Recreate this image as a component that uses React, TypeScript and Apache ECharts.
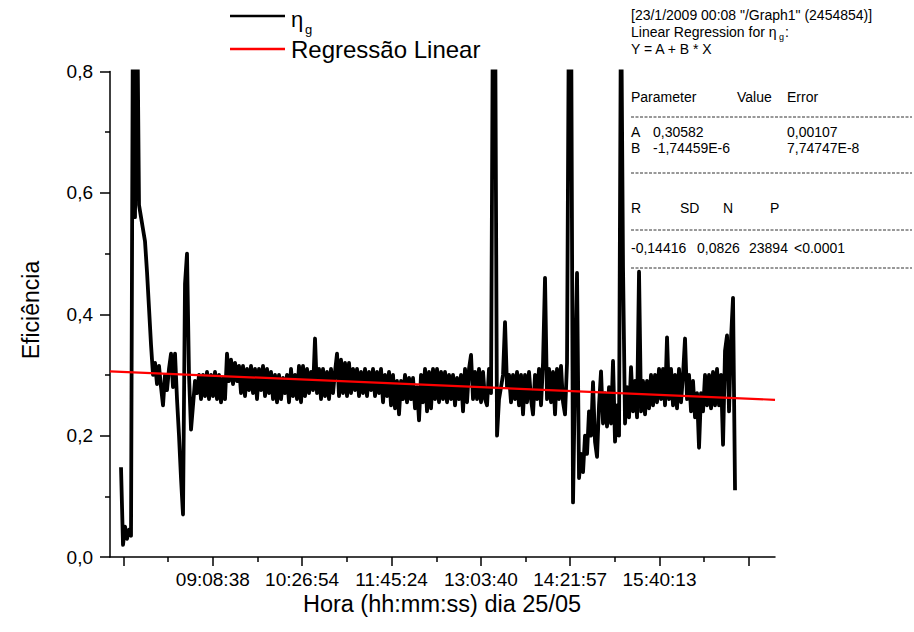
import React, { useEffect, useRef } from "react";
import * as echarts from "echarts";

const FONT = "'Liberation Sans', Arial, Helvetica, sans-serif";

// x axis (time of day)
const xAxisRange = ["07:38:31", "17:21:29"];
const xTickLabels = ["09:08:38", "10:26:54", "11:45:24", "13:03:40", "14:21:57", "15:40:13"];
const xUnlabeledMajorTicks = ["07:50:21", "16:58:30"];

// y axis
const yMin = 0;
const yMax = 0.8;
const yInterval = 0.2;

const traceStart = "07:48:10";
const traceStepSeconds = 105.2;
const efficiency = [
  0.148, 0.02, 0.05, 0.03, 0.045, 0.035, 0.95, 0.56, 0.95, 0.58,
  0.56, 0.54, 0.52, 0.47, 0.41, 0.35, 0.30, 0.32, 0.285, 0.315,
  0.28, 0.25, 0.30, 0.275, 0.31, 0.335, 0.28, 0.335, 0.26, 0.20,
  0.13, 0.07, 0.45, 0.50, 0.30, 0.21, 0.25, 0.29, 0.27, 0.30,
  0.26, 0.30, 0.265, 0.305, 0.26, 0.30, 0.265, 0.305, 0.26, 0.30,
  0.255, 0.295, 0.26, 0.335, 0.29, 0.325, 0.285, 0.32, 0.29, 0.315,
  0.27, 0.315, 0.265, 0.31, 0.275, 0.315, 0.27, 0.31, 0.26, 0.31,
  0.275, 0.315, 0.265, 0.31, 0.27, 0.305, 0.26, 0.30, 0.255, 0.30,
  0.26, 0.295, 0.27, 0.30, 0.255, 0.31, 0.265, 0.30, 0.26, 0.315,
  0.255, 0.315, 0.265, 0.31, 0.27, 0.305, 0.275, 0.36, 0.27, 0.31,
  0.26, 0.31, 0.265, 0.305, 0.26, 0.31, 0.27, 0.305, 0.335, 0.265,
  0.325, 0.27, 0.32, 0.265, 0.32, 0.27, 0.31, 0.275, 0.31, 0.265,
  0.305, 0.27, 0.31, 0.265, 0.305, 0.275, 0.31, 0.265, 0.305, 0.27,
  0.31, 0.255, 0.30, 0.265, 0.305, 0.25, 0.30, 0.245, 0.29, 0.235,
  0.29, 0.26, 0.30, 0.255, 0.295, 0.26, 0.295, 0.245, 0.28, 0.225,
  0.30, 0.255, 0.31, 0.24, 0.305, 0.245, 0.31, 0.26, 0.31, 0.255,
  0.305, 0.26, 0.305, 0.255, 0.30, 0.26, 0.30, 0.25, 0.295, 0.26,
  0.30, 0.24, 0.31, 0.255, 0.31, 0.333, 0.26, 0.305, 0.26, 0.31,
  0.255, 0.305, 0.26, 0.25, 0.31, 0.27, 0.95, 0.95, 0.20, 0.26,
  0.28, 0.30, 0.387, 0.28, 0.30, 0.255, 0.30, 0.26, 0.305, 0.25,
  0.30, 0.235, 0.30, 0.255, 0.305, 0.26, 0.235, 0.30, 0.26, 0.31,
  0.25, 0.32, 0.46, 0.26, 0.31, 0.255, 0.305, 0.235, 0.31, 0.26,
  0.315, 0.255, 0.235, 0.32, 0.95, 0.95, 0.09, 0.30, 0.468, 0.13,
  0.17, 0.14, 0.20, 0.17, 0.24, 0.20, 0.288, 0.19, 0.165, 0.25,
  0.306, 0.22, 0.27, 0.215, 0.28, 0.22, 0.323, 0.19, 0.25, 0.20,
  0.95, 0.476, 0.22, 0.28, 0.23, 0.313, 0.24, 0.29, 0.23, 0.47,
  0.24, 0.29, 0.235, 0.29, 0.245, 0.30, 0.25, 0.30, 0.255, 0.31,
  0.26, 0.31, 0.25, 0.362, 0.26, 0.31, 0.25, 0.30, 0.245, 0.31,
  0.255, 0.30, 0.36, 0.26, 0.30, 0.24, 0.29, 0.23, 0.27, 0.18,
  0.27, 0.24, 0.30, 0.25, 0.30, 0.245, 0.305, 0.25, 0.31, 0.25,
  0.30, 0.185, 0.34, 0.365, 0.24, 0.36, 0.427, 0.11,
];

// linear regression line as drawn
const regressionTimes = ["07:38:31", "17:21:29"];
const regressionValues = [0.306, 0.259];

// regression report text
const reportHeader = "[23/1/2009 00:08 \"/Graph1\" (2454854)]";
const reportTitle = "Linear Regression for η";
const reportModel = "Y = A + B * X";
const paramColumns = ["Parameter", "Value", "Error"];
const paramNames = ["A", "B"];
const paramValues = ["0,30582", "-1,74459E-6"];
const paramErrors = ["0,00107", "7,74747E-8"];
const statNames = ["R", "SD", "N", "P"];
const statValues = ["-0,14416", "0,0826", "23894", "<0.0001"];

function hmsToSec(s: string): number {
  const [h, m, sec] = s.split(":").map(Number);
  return h * 3600 + m * 60 + sec;
}
function secToHms(v: number): string {
  const r = Math.round(v);
  const h = Math.floor(r / 3600);
  const m = Math.floor((r % 3600) / 60);
  const s = r % 60;
  const p = (n: number) => String(n).padStart(2, "0");
  return `${p(h)}:${p(m)}:${p(s)}`;
}

function txt(x: number, y: number, text: string, fontSize: number, align = "left", extra: any = {}, lh?: number) {
  return {
    type: "text",
    x,
    y,
    silent: true,
    ...extra,
    style: {
      text,
      fontSize,
      fontFamily: FONT,
      fill: "#000",
      align,
      verticalAlign: "middle",
      textAlign: align,
      textVerticalAlign: "middle",
      lineHeight: lh ?? Math.round(fontSize * 1.05),
    },
  };
}

function dash(y: number) {
  return {
    type: "line",
    silent: true,
    shape: { x1: 631, y1: y, x2: 912, y2: y },
    style: { stroke: "#333", lineWidth: 1, lineDash: [3, 1.5] },
  };
}

export default function App() {
  const ref = useRef<HTMLDivElement>(null);

  useEffect(() => {
    if (!ref.current) return;
    const chart = echarts.init(ref.current, null, { renderer: "svg" });

    const t0 = hmsToSec(traceStart);
    const traceData = efficiency.map((v, i) => [t0 + i * traceStepSeconds, v]);
    const regData = regressionTimes.map((t, i) => [hmsToSec(t), regressionValues[i]]);
    const labeled = xTickLabels.map(hmsToSec);
    const majors = [hmsToSec(xUnlabeledMajorTicks[0]), ...labeled, hmsToSec(xUnlabeledMajorTicks[1])];
    const minors = majors.slice(1).map((m, i) => (m + majors[i]) / 2);
    const xMin = hmsToSec(xAxisRange[0]);
    const xMax = hmsToSec(xAxisRange[1]);

    const axisLineStyle = { color: "#000", width: 1.5 };
    const tickLabelStyle = { color: "#000", fontSize: 19, fontFamily: FONT };
    const R = 14;

    const option: any = {
      animation: false,
      backgroundColor: "#fff",
      grid: { left: 110, right: 139, top: 71.5, bottom: 75, containLabel: false },
      xAxis: [
        {
          type: "value",
          min: xMin,
          max: xMax,
          axisLine: { show: true, lineStyle: axisLineStyle },
          axisTick: { show: true, customValues: majors, length: 9, lineStyle: axisLineStyle },
          axisLabel: {
            show: true,
            customValues: labeled,
            formatter: (v: number) => secToHms(v),
            margin: 13,
            ...tickLabelStyle,
          },
          splitLine: { show: false },
        },
        {
          type: "value",
          min: xMin,
          max: xMax,
          position: "bottom",
          axisLine: { show: false },
          axisTick: { show: true, customValues: minors, length: 5, lineStyle: axisLineStyle },
          axisLabel: { show: false },
          splitLine: { show: false },
        },
      ],
      yAxis: {
        type: "value",
        min: yMin,
        max: yMax,
        interval: yInterval,
        axisLine: { show: true, lineStyle: axisLineStyle },
        axisTick: { show: true, length: 10, lineStyle: axisLineStyle },
        minorTick: { show: true, splitNumber: 2, length: 5, lineStyle: axisLineStyle },
        axisLabel: {
          formatter: (v: number) => v.toFixed(1).replace(".", ","),
          margin: 17,
          ...tickLabelStyle,
        },
        splitLine: { show: false },
        minorSplitLine: { show: false },
      },
      series: [
        {
          name: "ηg",
          type: "line",
          data: traceData,
          showSymbol: false,
          symbol: "none",
          clip: true,
          lineStyle: { color: "#000", width: 3.8, join: "round" },
          z: 2,
        },
        {
          name: "Regressão Linear",
          type: "line",
          data: regData,
          showSymbol: false,
          symbol: "none",
          lineStyle: { color: "#ff0000", width: 2.2 },
          z: 3,
        },
      ],
      graphic: [
        // axis titles
        txt(31, 310, "Eficiência", 23, "center", { rotation: Math.PI / 2 }),
        txt(442, 604, "Hora (hh:mm:ss) dia 25/05", 23.5, "center"),
        // legend
        {
          type: "line",
          silent: true,
          shape: { x1: 230, y1: 16, x2: 285, y2: 16 },
          style: { stroke: "#000", lineWidth: 2.5 },
        },
        txt(291, 19, "η", 22, "left", {}, 20),
        txt(305, 29, "g", 13, "left", {}, 12),
        {
          type: "line",
          silent: true,
          shape: { x1: 230, y1: 49, x2: 285, y2: 49 },
          style: { stroke: "#ff0000", lineWidth: 2.5 },
        },
        txt(291, 49, "Regressão Linear", 24, "left", {}, 22),
        // regression report
        txt(631, 15, reportHeader, R),
        txt(631, 32, reportTitle, R),
        txt(779, 37, "g", 9, "left", {}, 9),
        txt(785, 32, ":", R),
        txt(631, 49, reportModel, R),
        txt(631, 97, paramColumns[0], R),
        txt(737, 97, paramColumns[1], R),
        txt(787, 97, paramColumns[2], R),
        dash(117),
        txt(631, 132, paramNames[0], R),
        txt(653, 132, paramValues[0], R),
        txt(787, 132, paramErrors[0], R),
        txt(631, 148, paramNames[1], R),
        txt(653, 148, paramValues[1], R),
        txt(787, 148, paramErrors[1], R),
        dash(173),
        txt(631, 208, statNames[0], R),
        txt(680, 208, statNames[1], R),
        txt(723, 208, statNames[2], R),
        txt(770, 208, statNames[3], R),
        dash(230),
        txt(631, 248, statValues[0], R),
        txt(697, 248, statValues[1], R),
        txt(749, 248, statValues[2], R),
        txt(794, 248, statValues[3], R),
        dash(268),
      ],
    };

    chart.setOption(option);
    return () => chart.dispose();
  }, []);

  return (
    <div
      ref={ref}
      style={{ position: "absolute", left: 0, top: 0, width: 914, height: 632, background: "#fff" }}
    />
  );
}
